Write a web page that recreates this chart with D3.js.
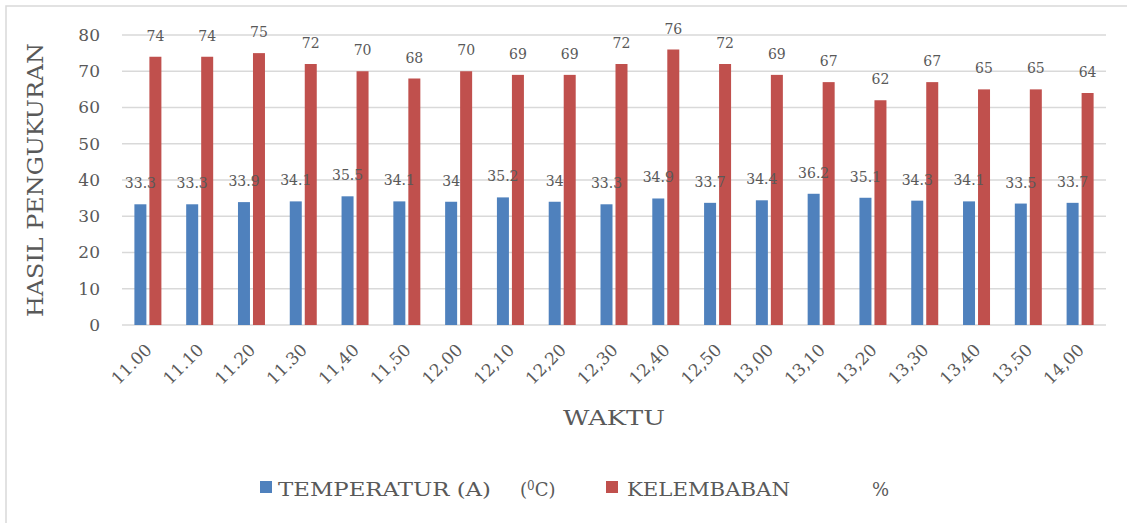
<!DOCTYPE html>
<html>
<head>
<meta charset="utf-8">
<script src="https://cdn.jsdelivr.net/npm/d3@7"></script>
<style>
  html, body { margin: 0; padding: 0; background: #fff; }
  svg { display: block; }
  text { font-family: "DejaVu Serif", "Liberation Serif", serif; fill: #595959; }
</style>
</head>
<body>
<svg id="chart" width="1127" height="523"></svg>
<script>
// Measurement times (x axis categories)
const waktu = ["11.00", "11.10", "11.20", "11.30", "11,40", "11,50", "12,00", "12,10", "12,20", "12,30",
               "12,40", "12,50", "13,00", "13,10", "13,20", "13,30", "13,40", "13,50", "14,00"];
// Temperature (°C)
const temperatur = [33.3, 33.3, 33.9, 34.1, 35.5, 34.1, 34, 35.2, 34, 33.3,
                    34.9, 33.7, 34.4, 36.2, 35.1, 34.3, 34.1, 33.5, 33.7];
// Humidity (%)
const kelembaban = [74, 74, 75, 72, 70, 68, 70, 69, 69, 72,
                    76, 72, 69, 67, 62, 67, 65, 65, 64];
const yTicks = [0, 10, 20, 30, 40, 50, 60, 70, 80];
const seriesKeys = ["temp", "hum"];

const colors = { temp: "#4f81bd", hum: "#c0504d" };
const grid = "#d9d9d9";

const svg = d3.select("#chart");

// outer frame
svg.append("rect")
  .attr("x", 6).attr("y", 6)
  .attr("width", 1140).attr("height", 540)
  .attr("fill", "none").attr("stroke", grid).attr("stroke-width", 1.5);

const plot = { left: 122, right: 1106, top: 35, bottom: 325 };

const x = d3.scaleBand().domain(waktu).range([plot.left, plot.right]).padding(0);
const xs = d3.scaleBand().domain(seriesKeys).range([-13.5, 13.5]).paddingInner(0.2).paddingOuter(0);
const y = d3.scaleLinear().domain([0, 80]).range([plot.bottom, plot.top]);

// horizontal gridlines
svg.append("g")
  .selectAll("line")
  .data(yTicks)
  .join("line")
  .attr("x1", plot.left).attr("x2", plot.right)
  .attr("y1", d => y(d)).attr("y2", d => y(d))
  .attr("stroke", grid).attr("stroke-width", 1.5);

// y axis tick labels
const yAxis = d3.axisLeft(y).tickValues(yTicks).tickSize(0).tickPadding(0);
const gy = svg.append("g")
  .attr("transform", `translate(${plot.left - 22},0)`)
  .call(yAxis);
gy.select(".domain").remove();
gy.selectAll("text")
  .attr("font-family", "DejaVu Serif")
  .attr("font-size", 17)
  .attr("fill", "#595959");

// x axis tick labels, rotated
const xAxis = d3.axisBottom(x).tickSize(0).tickPadding(0);
const gx = svg.append("g")
  .attr("transform", `translate(0,${plot.bottom})`)
  .call(xAxis);
gx.select(".domain").remove();
gx.selectAll("text")
  .attr("font-family", "DejaVu Serif")
  .attr("font-size", 17)
  .attr("fill", "#595959")
  .attr("text-anchor", "end")
  .attr("dy", 0)
  .attr("y", 0)
  .attr("transform", "translate(5,26) rotate(-45)");

// bars
const rows = waktu.map((w, i) => ({ w, temp: temperatur[i], hum: kelembaban[i] }));
const groups = svg.append("g")
  .selectAll("g")
  .data(rows)
  .join("g")
  .attr("transform", d => `translate(${x(d.w) + x.bandwidth() / 2},0)`);

groups.selectAll("rect")
  .data(d => seriesKeys.map(k => ({ k, v: d[k] })))
  .join("rect")
  .attr("x", d => xs(d.k))
  .attr("width", xs.bandwidth())
  .attr("y", d => y(d.v))
  .attr("height", d => y(0) - y(d.v))
  .attr("fill", d => colors[d.k]);

// value labels
groups.selectAll("text.val")
  .data(d => seriesKeys.map(k => ({ k, v: d[k] })))
  .join("text")
  .attr("class", "val")
  .attr("x", d => xs(d.k) + xs.bandwidth() / 2)
  .attr("y", d => y(d.v) - 16)
  .attr("text-anchor", "middle")
  .attr("font-size", 14)
  .text(d => String(d.v));

// axis titles
svg.append("text")
  .attr("transform", "translate(43,180) rotate(-90)")
  .attr("text-anchor", "middle")
  .attr("font-size", 23)
  .attr("textLength", 274)
  .attr("lengthAdjust", "spacingAndGlyphs")
  .text("HASIL PENGUKURAN");

svg.append("text")
  .attr("x", 563).attr("y", 425)
  .attr("font-size", 21)
  .attr("textLength", 102)
  .attr("lengthAdjust", "spacingAndGlyphs")
  .text("WAKTU");

// legend
const legend = svg.append("g");
legend.append("rect").attr("x", 260).attr("y", 481).attr("width", 12).attr("height", 12).attr("fill", colors.temp);
legend.append("text")
  .attr("x", 278).attr("y", 496)
  .attr("font-size", 18)
  .attr("textLength", 213)
  .attr("lengthAdjust", "spacingAndGlyphs")
  .text("TEMPERATUR (A)");
const unitT = legend.append("text").attr("x", 520).attr("y", 496).attr("font-size", 18);
unitT.append("tspan").text("(");
unitT.append("tspan").attr("dy", -6).attr("font-size", 12).text("0");
unitT.append("tspan").attr("dy", 6).text("C)");

legend.append("rect").attr("x", 606).attr("y", 481).attr("width", 12).attr("height", 12).attr("fill", colors.hum);
legend.append("text")
  .attr("x", 627).attr("y", 496)
  .attr("font-size", 18)
  .attr("textLength", 163)
  .attr("lengthAdjust", "spacingAndGlyphs")
  .text("KELEMBABAN");
legend.append("text")
  .attr("x", 872).attr("y", 496)
  .attr("font-size", 18)
  .text("%");
</script>
</body>
</html>
